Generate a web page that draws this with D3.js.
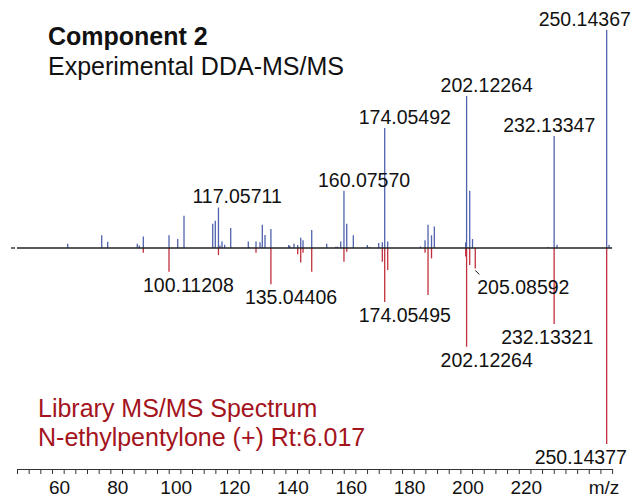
<!DOCTYPE html>
<html>
<head>
<meta charset="utf-8">
<script src="https://cdn.jsdelivr.net/npm/d3@7"></script>
<style>
  body { margin: 0; background: #fff; }
  svg text { font-family: "Liberation Sans", Arial, sans-serif; }
</style>
</head>
<body>
<div id="chart"></div>
<script>
/* Mirror plot: experimental DDA-MS/MS (up) vs library MS/MS (down) */

// experimental spectrum, m/z and relative intensity (%)
const expMz = [65.38, 77.04, 79.09, 89.24, 89.93, 91.30, 100.11, 103.09, 105.25, 115.09,
  115.98, 117.06, 117.59, 118.28, 119.20, 121.26, 127.29, 127.6, 129.93, 131.30,
  132.09, 133.02, 135.04, 141.14, 141.5, 142.96, 144.23, 145.26, 146.05, 149.03,
  154.17, 157.3, 157.9, 158.97, 160.08, 161.03, 163.29, 168.09, 168.8, 172.00,
  173.23, 174.05, 175.08, 186.3, 187.87, 188.90, 190.10, 191.06, 201.82, 202.12,
  203.19, 204.15, 230.14, 232.13, 233.12, 250.14, 250.95];
const expInt = [2.0, 5.8, 2.9, 2.0, 1.2, 5.3, 5.8, 4.1, 14.8, 11.1,
  12.5, 18.6, 1.2, 3.0, 1.5, 9.2, 3.0, 0.5, 3.0, 2.6,
  10.7, 6.0, 8.7, 1.4, 1.0, 2.0, 1.4, 4.7, 3.5, 8.3,
  2.0, 0.6, 0.6, 3.0, 26.3, 11.1, 5.8, 1.4, 0.5, 2.3,
  2.6, 55, 3.0, 0.7, 3.5, 10.7, 5.8, 9.9, 2.6, 69.7,
  26.3, 4.1, 0.5, 51.4, 1.5, 100, 1.5];

// library spectrum, m/z and relative intensity (%)
const libMz = [91.30, 100.11, 117.06, 129.93, 135.04, 144.23, 145.26, 146.05, 149.03, 160.08,
  161.03, 173.23, 174.05, 175.08, 187.87, 188.90, 190.10, 201.82, 202.12, 203.19,
  205.09, 232.13, 250.14];
const libInt = [2.4, 12.1, 3.6, 2.4, 18.5, 3.2, 7.4, 2.4, 12.1, 7.0,
  1.9, 7.0, 27.6, 11.2, 2.4, 24.0, 5.3, 4.4, 50.4, 8.7,
  10.4, 38.8, 100];

// annotated peaks
const expLabelMz = [117.06, 160.08, 174.05, 202.12, 232.13, 250.14];
const expLabelText = ["117.05711", "160.07570", "174.05492", "202.12264", "232.13347", "250.14367"];
const libLabelMz = [100.11, 135.04, 174.05, 202.12, 205.09, 232.13, 250.14];
const libLabelText = ["100.11208", "135.04406", "174.05495", "202.12264", "205.08592", "232.13321", "250.14377"];

const tickLabels = [60, 80, 100, 120, 140, 160, 180, 200, 220];

const width = 634, height = 497;
const baseY = 248, axisY = 469;
const blue = "#4f63ad", red = "#c0303c", darkRed = "#a3141d";

const svg = d3.select("#chart").append("svg")
  .attr("width", width)
  .attr("height", height);

const x = d3.scaleLinear().domain([48, 252]).range([17, 612.1]);
const yTop = d3.scaleLinear().domain([0, 100]).range([baseY, 30]);
const yBot = d3.scaleLinear().domain([0, 100]).range([baseY, 444]);

const expData = expMz.map((m, i) => ({ mz: m, v: expInt[i] }));
const libData = libMz.map((m, i) => ({ mz: m, v: libInt[i] }));

// library sticks (down)
svg.append("g").selectAll("line")
  .data(libData)
  .join("line")
  .attr("x1", d => x(d.mz)).attr("x2", d => x(d.mz))
  .attr("y1", baseY).attr("y2", d => yBot(d.v))
  .attr("stroke", red)
  .attr("stroke-width", 1.3);

// experimental sticks (up)
svg.append("g").selectAll("line")
  .data(expData)
  .join("line")
  .attr("x1", d => x(d.mz)).attr("x2", d => x(d.mz))
  .attr("y1", baseY).attr("y2", d => yTop(d.v))
  .attr("stroke", blue)
  .attr("stroke-width", 1.3);

// zero line
svg.append("line")
  .attr("x1", x.range()[0]).attr("x2", x.range()[1])
  .attr("y1", baseY).attr("y2", baseY)
  .attr("stroke", "#222").attr("stroke-width", 1.3);
svg.append("line")
  .attr("x1", 11).attr("x2", 15)
  .attr("y1", baseY).attr("y2", baseY)
  .attr("stroke", "#222").attr("stroke-width", 1.3);

// peak labels; most sit a bit left of the stick, a few are pushed left to clear the edge
const labelDx = { "232.13347": -51, "232.13321": -53, "250.14367": -68, "250.14377": -72, "205.08592": 2 };

svg.append("g").selectAll("text")
  .data(expLabelMz.map((m, i) => ({ mz: m, t: expLabelText[i], v: expInt[expMz.indexOf(m)] })))
  .join("text")
  .attr("x", d => x(d.mz) + (labelDx[d.t] ?? -26))
  .attr("y", d => yTop(d.v) - 4)
  .attr("font-size", 19.5)
  .attr("fill", "#111")
  .text(d => d.t);

svg.append("g").selectAll("text")
  .data(libLabelMz.map((m, i) => ({ mz: m, t: libLabelText[i], v: libInt[libMz.indexOf(m)] })))
  .join("text")
  .attr("x", d => x(d.mz) + (labelDx[d.t] ?? -26))
  .attr("y", d => yBot(d.v) + (d.t === "205.08592" ? 26 : 20))
  .attr("font-size", 19.5)
  .attr("fill", "#111")
  .text(d => d.t);

// leader for 205.08592
const m205 = 205.09;
svg.append("line")
  .attr("x1", x(m205)).attr("x2", x(m205) + 4)
  .attr("y1", yBot(libInt[libMz.indexOf(m205)]) + 2)
  .attr("y2", yBot(libInt[libMz.indexOf(m205)]) + 6)
  .attr("stroke", "#111").attr("stroke-width", 1);

// x axis
const axis = svg.append("g")
  .attr("transform", `translate(0,${axisY})`)
  .call(d3.axisBottom(x)
    .tickValues(d3.range(48, 253, 4))
    .tickSize(5)
    .tickSizeOuter(0)
    .tickPadding(6.5)
    .tickFormat(d => tickLabels.includes(d) ? d : ""));
axis.select(".domain").attr("stroke", "#333").attr("stroke-width", 1.2);
axis.selectAll(".tick line").attr("stroke", "#333");
axis.selectAll(".tick text")
  .attr("dx", 7)
  .attr("font-size", 19)
  .attr("font-family", "Liberation Sans, Arial, sans-serif")
  .attr("fill", "#111");

svg.append("text")
  .attr("x", 604).attr("y", 494)
  .attr("text-anchor", "middle")
  .attr("font-size", 19)
  .attr("fill", "#111")
  .text("m/z");

// titles
svg.append("text")
  .attr("x", 48).attr("y", 45)
  .attr("font-size", 25).attr("font-weight", "bold")
  .attr("fill", "#111")
  .text("Component 2");
svg.append("text")
  .attr("x", 48).attr("y", 75)
  .attr("font-size", 25)
  .attr("fill", "#111")
  .text("Experimental DDA-MS/MS");

svg.append("text")
  .attr("x", 38).attr("y", 417)
  .attr("font-size", 25)
  .attr("fill", darkRed)
  .text("Library MS/MS Spectrum");
svg.append("text")
  .attr("x", 38).attr("y", 446)
  .attr("font-size", 25)
  .attr("fill", darkRed)
  .text("N-ethylpentylone (+) Rt:6.017");
</script>
</body>
</html>
